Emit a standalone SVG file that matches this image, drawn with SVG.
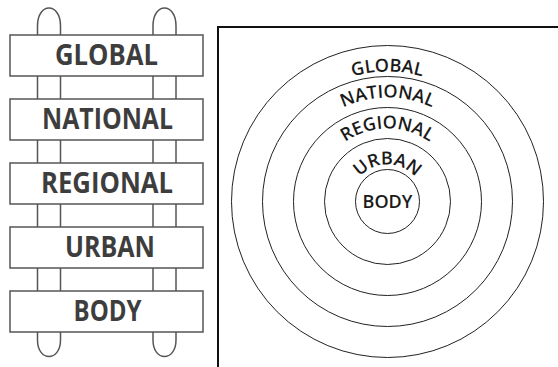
<svg xmlns="http://www.w3.org/2000/svg" xmlns:xlink="http://www.w3.org/1999/xlink" width="558" height="367" viewBox="0 0 558 367">
<style>
.board{fill:#fff;stroke:#555;stroke-width:1.5}
.rail{fill:none;stroke:#555;stroke-width:1.5}
.btxt{font-family:"Open Sans","Liberation Sans",sans-serif;font-weight:bold;font-size:28px;fill:#3d3d3d;text-anchor:middle}
.ring{fill:none;stroke:#222;stroke-width:1}
.atxt{font-family:"Open Sans","Liberation Sans",sans-serif;font-weight:600;font-size:18px;fill:#1a1a1a}
</style>
<defs>
<path id="pGlobal" d="M257.5,201.5 A130,130 0 0 1 517.5,201.5"/>
<path id="pNational" d="M283.5,201.5 A104,104 0 0 1 491.5,201.5"/>
<path id="pRegional" d="M314.5,201.5 A73,73 0 0 1 460.5,201.5"/>
<path id="pUrban" d="M350.5,201.5 A37,37 0 0 1 424.5,201.5"/>
</defs>
<rect width="558" height="367" fill="#fff"/>
<g id="ladder">
<g id="rails">
<path class="rail" d="M37.5,35 V26 C37.5,2 60.5,2 60.5,26 V35"/>
<path class="rail" d="M153,35 V26 C153,2 176,2 176,26 V35"/>
<path class="rail" d="M37.5,35 V332 M60.5,35 V332 M153,35 V332 M176,35 V332"/>
<path class="rail" d="M37.5,332 V340 C37.5,362 60.5,362 60.5,340 V332"/>
<path class="rail" d="M153,332 V340 C153,362 176,362 176,340 V332"/>
</g>
<g id="board-global"><rect class="board" x="10" y="35" width="193" height="41"/><text class="btxt" x="106.5" y="65" textLength="103" lengthAdjust="spacingAndGlyphs">GLOBAL</text></g>
<g id="board-national"><rect class="board" x="10" y="99" width="193" height="41"/><text class="btxt" x="107.5" y="129" textLength="131" lengthAdjust="spacingAndGlyphs">NATIONAL</text></g>
<g id="board-regional"><rect class="board" x="10" y="163" width="193" height="41"/><text class="btxt" x="107" y="193" textLength="132" lengthAdjust="spacingAndGlyphs">REGIONAL</text></g>
<g id="board-urban"><rect class="board" x="10" y="227" width="193" height="41"/><text class="btxt" x="110" y="257" textLength="90" lengthAdjust="spacingAndGlyphs">URBAN</text></g>
<g id="board-body"><rect class="board" x="10" y="291" width="193" height="41"/><text class="btxt" x="107.5" y="321" textLength="68" lengthAdjust="spacingAndGlyphs">BODY</text></g>
</g>
<g id="frame"><path d="M218,367 V27 H558" fill="none" stroke="#111" stroke-width="2"/></g>
<g id="rings">
<g id="ring-global"><circle class="ring" cx="387.5" cy="201.5" r="156"/><text class="atxt"><textPath xlink:href="#pGlobal" startOffset="50%" text-anchor="middle">GLOBAL</textPath></text></g>
<g id="ring-national"><circle class="ring" cx="387.5" cy="201.5" r="125"/><text class="atxt"><textPath xlink:href="#pNational" startOffset="50%" text-anchor="middle">NATIONAL</textPath></text></g>
<g id="ring-regional"><circle class="ring" cx="387.5" cy="201.5" r="94"/><text class="atxt"><textPath xlink:href="#pRegional" startOffset="50%" text-anchor="middle">REGIONAL</textPath></text></g>
<g id="ring-urban"><circle class="ring" cx="387.5" cy="201.5" r="63"/><text class="atxt"><textPath xlink:href="#pUrban" startOffset="50%" text-anchor="middle">URBAN</textPath></text></g>
<g id="ring-body"><circle class="ring" cx="387.5" cy="201.5" r="32"/><text class="atxt" x="387.5" y="208" text-anchor="middle">BODY</text></g>
</g>
</svg>
